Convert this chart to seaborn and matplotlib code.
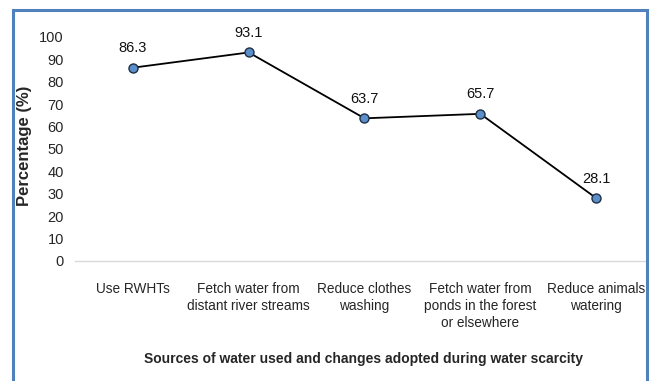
import matplotlib
matplotlib.use("Agg")
import matplotlib.pyplot as plt
from matplotlib.patches import Rectangle
import seaborn as sns
import pandas as pd

categories = [
    "Use RWHTs",
    "Fetch water from\ndistant river streams",
    "Reduce clothes\nwashing",
    "Fetch water from\nponds in the forest\nor elsewhere",
    "Reduce animals\nwatering",
]
percentages = [86.3, 93.1, 63.7, 65.7, 28.1]
y_ticks = [0, 10, 20, 30, 40, 50, 60, 70, 80, 90, 100]

sns.set_style("white")
plt.rcParams["font.family"] = ["Liberation Sans", "DejaVu Sans"]

df = pd.DataFrame({"category": categories, "pct": percentages})

fig = plt.figure(figsize=(6.53, 3.81), dpi=100)
# plot area reaches the right frame, as in the original layout
ax = fig.add_axes([75 / 653, 1 - 261 / 381, (654 - 75) / 653, (261 - 37) / 381])

sns.lineplot(data=df, x="category", y="pct", ax=ax, color="black", linewidth=1.3,
             marker="o", markersize=6.5, markerfacecolor="#5B8FC9",
             markeredgecolor="#1F2F45", markeredgewidth=1.0, sort=False)

for i, v in enumerate(percentages):
    ax.annotate(f"{v}", (i, v), xytext=(0, 9), textcoords="offset points",
                ha="center", va="bottom", fontsize=10.5, color="#111111")

ax.set_xlim(-0.5, 4.5)
ax.set_ylim(0, 100)
ax.set_yticks(y_ticks)
ax.set_yticklabels([str(t) for t in y_ticks], fontsize=10.5)
ax.set_xticks(range(len(categories)))
ax.set_xticklabels(categories, fontsize=9.8, linespacing=1.3)
ax.tick_params(axis="y", length=0, pad=8)
ax.tick_params(axis="x", length=0, pad=15)

for s in ["top", "right", "left"]:
    ax.spines[s].set_visible(False)
ax.spines["bottom"].set_color("#d9d9d9")
ax.spines["bottom"].set_linewidth(1.0)
ax.spines["bottom"].set_bounds(-0.5, 4.43)

ax.set_xlabel("")
ax.set_ylabel("")
fig.text(25 / 653, 1 - 146 / 381, "Percentage (%)", rotation=90, ha="center", va="center",
         fontsize=12, fontweight="bold")
fig.text(363 / 653, 1 - 359 / 381, "Sources of water used and changes adopted during water scarcity",
         ha="center", va="center", fontsize=10, fontweight="bold")

fig.patches.append(Rectangle((13 / 653, -0.05), (647 - 13) / 653, 1 - 10 / 381 + 0.05,
                             transform=fig.transFigure, fill=False,
                             edgecolor="#4F81BD", linewidth=2.2))

fig.savefig("out.png", dpi=100)
